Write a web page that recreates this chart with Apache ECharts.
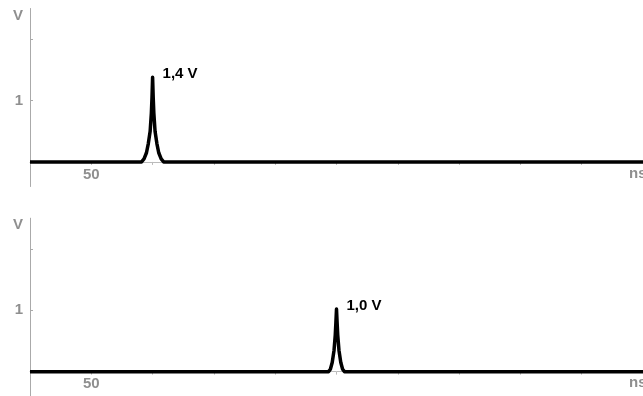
<!DOCTYPE html>
<html>
<head>
<meta charset="utf-8">
<script src="https://cdn.jsdelivr.net/npm/echarts@6/dist/echarts.min.js"></script>
<style>
html,body{margin:0;padding:0;background:#fff;}
#c{width:643px;height:396px;}
</style>
</head>
<body>
<div id="c"></div>
<script>
// Top trace (time in ns, voltage in V)
const topTime  = [40, 58.2, 58.6, 59.0, 59.3, 59.6, 59.8, 59.9, 60, 60.1, 60.2, 60.4, 60.7, 61.0, 61.4, 61.8, 140];
const topVolt  = [0, 0, 0.05, 0.15, 0.3, 0.5, 0.8, 1.05, 1.38, 1.05, 0.8, 0.5, 0.3, 0.15, 0.05, 0, 0];
// Bottom trace
const botTime  = [40, 88.7, 89.0, 89.3, 89.6, 89.8, 89.9, 90, 90.1, 90.2, 90.4, 90.7, 91.0, 91.3, 140];
const botVolt  = [0, 0, 0.04, 0.15, 0.35, 0.6, 0.8, 1.02, 0.8, 0.6, 0.35, 0.15, 0.04, 0, 0];
// Peak annotations
const peakLabels = ['1,4 V', '1,0 V'];
// Tick labels
const xLabelValues = [50];
const yLabelValues = [1];
const yTickValues = [1, 2];
const xUnit = 'ns';
const yUnit = 'V';

const Y_MIN = -0.4, Y_MAX = 2.5, GRID_H = 178;
const gray = '#8f8f8f';
const font = "'Liberation Sans', Arial, sans-serif";

function buildData(t, v, label) {
  let peakIdx = 0;
  v.forEach((val, i) => { if (val > v[peakIdx]) peakIdx = i; });
  return t.map((x, i) => {
    if (i === peakIdx) {
      return {
        value: [x, v[i]],
        label: {
          show: true, position: 'right', distance: 10, offset: [0, -3],
          formatter: label, color: '#000', fontWeight: 'bold',
          fontSize: 15, fontFamily: font
        }
      };
    }
    return { value: [x, v[i]], label: { show: false } };
  });
}

function xAxis(gi) {
  return {
    gridIndex: gi, type: 'value', min: 40, max: 140, interval: 10,
    position: 'bottom',
    offset: Y_MIN * GRID_H / (Y_MAX - Y_MIN),
    name: xUnit, nameLocation: 'end', nameGap: -14,
    nameTextStyle: { color: gray, fontSize: 15, fontWeight: 'bold', fontFamily: font, align: 'left', verticalAlign: 'top', padding: [4, 0, 0, 0] },
    axisLine: { show: true, onZero: false, lineStyle: { color: '#bbb', width: 1 } },
    axisTick: { show: true, inside: false, length: 3, lineStyle: { color: '#bbb' } },
    axisLabel: { color: gray, fontSize: 15, fontWeight: 'bold', fontFamily: font, margin: 5,
      formatter: v => xLabelValues.indexOf(v) >= 0 ? String(v) : '' },
    splitLine: { show: false }
  };
}
function yAxis(gi) {
  return {
    gridIndex: gi, type: 'value', min: Y_MIN, max: Y_MAX,
    name: yUnit, nameLocation: 'end', nameGap: -7,
    nameTextStyle: { color: gray, fontSize: 15, fontWeight: 'bold', fontFamily: font, align: 'right', verticalAlign: 'middle', padding: [0, 7, 0, 0] },
    axisLine: { show: true, onZero: false, lineStyle: { color: '#aaa', width: 1 } },
    axisTick: { show: true, inside: true, length: 3, customValues: yTickValues, lineStyle: { color: '#aaa' } },
    axisLabel: { color: gray, fontSize: 15, fontWeight: 'bold', fontFamily: font, margin: 7, customValues: yLabelValues },
    splitLine: { show: false }
  };
}

const chart = echarts.init(document.getElementById('c'), null, { renderer: 'canvas' });
chart.setOption({
  animation: false,
  backgroundColor: '#fff',
  grid: [
    { left: 30, right: 0, top: 8.5, height: GRID_H, outerBoundsMode: 'none', containLabel: false },
    { left: 30, right: 0, top: 218.2, height: GRID_H, outerBoundsMode: 'none', containLabel: false }
  ],
  xAxis: [xAxis(0), xAxis(1)],
  yAxis: [yAxis(0), yAxis(1)],
  series: [
    { type: 'line', xAxisIndex: 0, yAxisIndex: 0, showSymbol: true, showAllSymbol: true,
      symbol: 'circle', symbolSize: 0,
      data: buildData(topTime, topVolt, peakLabels[0]),
      lineStyle: { color: '#000', width: 3.5, join: 'round' }, itemStyle: { color: '#000' }, z: 5 },
    { type: 'line', xAxisIndex: 1, yAxisIndex: 1, showSymbol: true, showAllSymbol: true,
      symbol: 'circle', symbolSize: 0,
      data: buildData(botTime, botVolt, peakLabels[1]),
      lineStyle: { color: '#000', width: 3.5, join: 'round' }, itemStyle: { color: '#000' }, z: 5 }
  ]
});
</script>
</body>
</html>
